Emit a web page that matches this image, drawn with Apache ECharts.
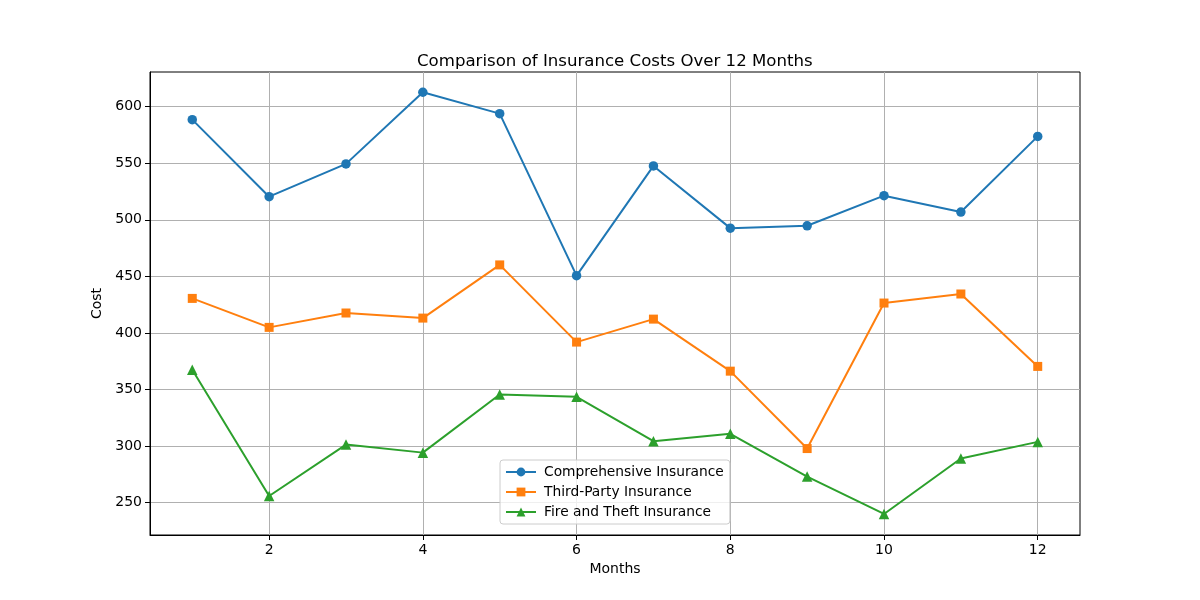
<!DOCTYPE html>
<html>
<head>
<meta charset="utf-8">
<script src="https://cdn.jsdelivr.net/npm/echarts@6/dist/echarts.min.js"></script>
<style>html,body{margin:0;padding:0;background:#fff}#c{width:1200px;height:600px}</style>
</head>
<body>
<div id="c"></div>
<script>
const months = [1,2,3,4,5,6,7,8,9,10,11,12];
const comprehensive = [588.5,520.4,549.4,612.7,593.8,450.6,547.6,492.6,494.7,521.3,506.8,573.7];
const thirdParty = [430.5,404.9,417.6,413.1,460.1,391.9,412.2,366.2,297.8,426.4,434.4,370.4];
const fireTheft = [367.4,255.9,301.3,294.2,345.6,343.5,304.3,310.8,273.0,240.0,289.0,303.7];
const xTicks = [2,4,6,8,10,12];
const yTicks = [250,300,350,400,450,500,550,600];
const seriesNames = ['Comprehensive Insurance','Third-Party Insurance','Fire and Theft Insurance'];

const font = 'DejaVu Sans';
const chart = echarts.init(document.getElementById('c'), null, {renderer:'canvas'});
function pairs(arr){ return months.map((m,i)=>[m,arr[i]]); }
function mk(name, data, color, symbol, size){
  return {name, type:'line', data:pairs(data), symbol, symbolSize:size,
    itemStyle:{color}, lineStyle:{color, width:2}, emphasis:{disabled:true}, animation:false};
}
chart.setOption({
  animation:false,
  backgroundColor:'#fff',
  title:{text:'Comparison of Insurance Costs Over 12 Months', left:412, top:48,
    textStyle:{fontFamily:font, fontSize:16.6, fontWeight:'normal', color:'#000'}},
  grid:{left:150, right:120, top:72, bottom:65, show:true, borderColor:'#000', borderWidth:1, backgroundColor:'transparent'},
  legend:{orient:'vertical', left:500, top:460, data:seriesNames,
    backgroundColor:'rgba(255,255,255,0.8)', borderColor:'#cccccc', borderWidth:1, borderRadius:3,
    padding:[5,6,5,5], itemGap:6, itemWidth:30, itemHeight:11,
    textStyle:{fontFamily:font, fontSize:13.8, color:'#000', padding:[0,0,0,3]}},
  xAxis:{type:'value', min:0.45, max:12.55, name:'Months', nameLocation:'middle', nameGap:27,
    nameTextStyle:{fontFamily:font, fontSize:14, color:'#000'},
    axisLine:{show:true, onZero:false, lineStyle:{color:'#000', width:1}},
    axisTick:{show:true, customValues:xTicks, length:5, lineStyle:{color:'#000'}},
    axisLabel:{customValues:xTicks, fontFamily:font, fontSize:14, color:'#000', margin:8},
    splitLine:{show:true, lineStyle:{color:'#b0b0b0', width:1}}},
  yAxis:{type:'value', min:221.4, max:630.6, name:'Cost', nameLocation:'middle', nameGap:41,
    nameTextStyle:{fontFamily:font, fontSize:14, color:'#000'},
    axisLine:{show:true, onZero:false, lineStyle:{color:'#000', width:1}},
    axisTick:{show:true, customValues:yTicks, length:5, lineStyle:{color:'#000'}},
    axisLabel:{customValues:yTicks, fontFamily:font, fontSize:14, color:'#000', margin:8},
    splitLine:{show:true, lineStyle:{color:'#b0b0b0', width:1}}},
  series:[
    mk(seriesNames[0], comprehensive, '#1f77b4', 'circle', 9.5),
    mk(seriesNames[1], thirdParty, '#ff7f0e', 'rect', 9),
    mk(seriesNames[2], fireTheft, '#2ca02c', 'triangle', 10.5)
  ]
});
</script>
</body>
</html>
